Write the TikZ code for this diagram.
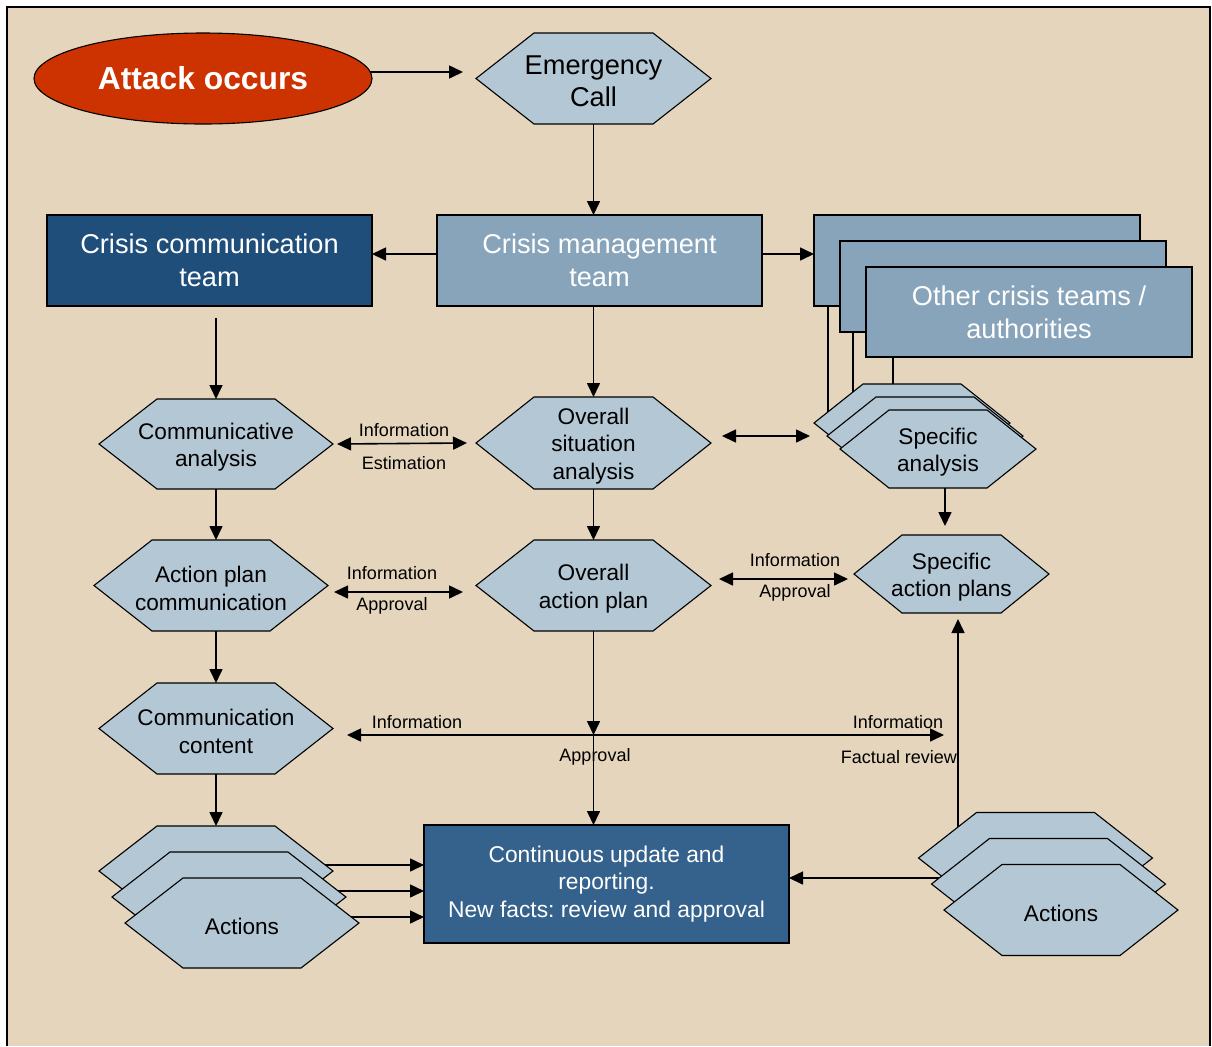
\documentclass[tikz,border=0pt]{standalone}
\usepackage{fontspec}
\setmainfont{Liberation Sans}
\frenchspacing
\usetikzlibrary{arrows.meta,shapes.geometric}
\pgfdeclarelayer{background}
\pgfdeclarelayer{connectors}
\pgfsetlayers{background,connectors,main}
\definecolor{bgc}{HTML}{E4D5BC}
\definecolor{hexc}{HTML}{B4C7D4}
\definecolor{teamc}{HTML}{87A4BA}
\definecolor{commc}{HTML}{1F4E7A}
\definecolor{contc}{HTML}{35628C}
\definecolor{attc}{HTML}{CC3300}
% #1 extra style, #2 name, #3 centre (px), #4 width, #5 height, #6 inset, #7 text
\newcommand\hexnode[7][]{%
  \coordinate (#2-c) at (#3);
  \filldraw[hexs] ([shift={(-#4/2,0)}]#2-c) -- ++(#6,-#5/2) -- ++(#4-2*#6,0)
     -- ++(#6,#5/2) -- ++(-#6,#5/2) -- ++(-#4+2*#6,0) -- cycle;
  \node[hext,minimum width=0.5pt*#4,minimum height=0.5pt*#5,#1] (#2) at (#2-c) {};
  \node[hext,#1] (#2-t) at ([yshift=-1.5pt]#2-c) {#7};
}
\begin{document}
\begin{tikzpicture}[x=0.5pt,y=-0.5pt,
  >={Triangle[length=7pt,width=6.5pt]},
  arr/.style={->,line width=0.8pt},
  darr/.style={<->,line width=0.8pt},
  ln/.style={line width=0.8pt},
  hexs/.style={fill=hexc,draw=black,line width=0.55pt},
  hext/.style={shape=rectangle,inner sep=0pt,outer sep=0pt,align=center,
    font=\fontsize{11.3}{13.8}\selectfont},
  box/.style={shape=rectangle,draw=black,line width=0.55pt,inner sep=0pt,outer sep=0pt,
    align=center,text=white,font=\fontsize{13.6}{16.5}\selectfont},
  lab/.style={inner sep=0pt,font=\fontsize{9}{11}\selectfont}]
\useasboundingbox (0,0) rectangle (1212,1046);
\begin{pgfonlayer}{background}
  \fill[white] (0,0) rectangle (1212,1046);
  \fill[bgc] (7,7) rectangle (1210,1046);
  \draw[line width=1pt] (7,1046) -- (7,7) -- (1210,7) -- (1210,1046);
\end{pgfonlayer}

% top
\node[ellipse,fill=attc,draw=black,line width=0.55pt,minimum width=169pt,minimum height=45.5pt,
  inner sep=0pt,outer sep=0pt,text=white,font=\bfseries\fontsize{15.9}{19}\selectfont]
  (att) at (203,78.5) {Attack occurs};
\hexnode[font=\fontsize{13.6}{16}\selectfont]{emg}{593.5,78.5}{235}{91}{58}{Emergency\\Call}

% teams
\node[box,fill=commc,minimum width=162.5pt,minimum height=45.5pt] (cct) at (209.5,260.5) {Crisis communication\\team};
\node[box,fill=teamc,minimum width=162.5pt,minimum height=45.5pt] (cm) at (599.5,260.5) {Crisis management\\team};
\node[box,fill=teamc,minimum width=163pt,minimum height=45.5pt] (ot1) at (977,260.5) {};
\node[box,fill=teamc,minimum width=163pt,minimum height=45.5pt] (ot2) at (1003,286.5) {};
\node[box,fill=teamc,minimum width=163pt,minimum height=45pt] (ot3) at (1029,312) {Other crisis teams /\\authorities};

% analysis row
\hexnode{cca}{216,444}{234}{90}{58}{Communicative\\analysis}
\hexnode{osa}{593.5,443}{235}{92}{58}{Overall\\situation\\analysis}
\hexnode{sa1}{912,423}{196}{78}{49}{}
\hexnode{sa2}{925,436}{196}{78}{49}{}
\hexnode{sa3}{938,449}{196}{78}{49}{Specific\\analysis}

% plan row
\hexnode{apc}{211,585.5}{234}{91}{58}{Action plan\\communication}
\hexnode{oap}{593.5,585.5}{235}{91}{58}{Overall\\action plan}
\hexnode{sap}{951.5,574}{195}{78}{48}{Specific\\action plans}

% content
\hexnode{cc}{216,728.5}{234}{91}{58}{Communication\\content}

% actions
\hexnode{la1}{216,871}{234}{90}{58}{}
\hexnode{la2}{229,897}{234}{90}{58}{}
\hexnode{la3}{242,923}{234}{90}{58}{Actions}
\hexnode{ra1}{1035.5,858}{234}{91}{58}{}
\hexnode{ra2}{1048.5,884}{234}{91}{58}{}
\hexnode{ra3}{1061,910}{234}{91}{58}{Actions}

\node[box,fill=contc,minimum width=182.5pt,minimum height=59pt,font=\fontsize{11.4}{13.75}\selectfont]
  (cont) at (606.5,884) {Continuous update and\\reporting.\\New facts: review and approval};

% labels
\node[lab] (l1) at (404,430) {Information};
\node[lab] (l2) at (404,463) {Estimation};
\node[lab] (l3) at (392,573) {Information};
\node[lab] (l4) at (392,606) {Approval};
\node[lab] (l5) at (795,560) {Information};
\node[lab] (l6) at (795,593) {Approval};
\node[lab] (l7) at (417,722) {Information};
\node[lab] (l8) at (595,757) {Approval};
\node[lab] (l9) at (898,722) {Information};
\node[lab] (l10) at (899,757) {Factual review};

\begin{pgfonlayer}{connectors}
  \draw[arr] ([yshift=3.25pt]att.center) -- ([shift={(-13,-6.5)}]emg.west);
  \draw[arr] (emg.south) -- (emg.south |- cm.north);
  \draw[arr] ([shift={(0,-6.5)}]cm.west) -- ([shift={(0,-6.5)}]cct.east);
  \draw[arr] ([shift={(0,-6.5)}]cm.east) -- ([shift={(0,-6.5)}]ot1.west);
  \draw[arr] (osa.north |- cm.south) -- (osa.north);
  \coordinate (c1) at (cct.south -| cca.north);
  \draw[arr] ([yshift=-6pt]c1) -- (cca.north);
  \draw[arr] (cca.south) -- (cca.south |- apc.north);
  \draw[arr] (cc.north |- apc.south) -- (cc.north);
  \draw[arr] (cc.south) -- (la1.north);
  \draw[arr] (osa.south) -- (oap.north);
  \coordinate (hl) at (347,735);
  \coordinate (hr) at (944,735);
  \coordinate (jn) at (oap.south |- hl);
  \draw[arr] (oap.south) -- (jn);
  \draw[arr] (jn) -- (jn |- cont.north);
  \draw[darr] (hl) -- (hr);
  \draw[darr] ([shift={(4,0)}]cca.east) -- ([shift={(-9,0)}]osa.west);
  \draw[darr] ([shift={(6,6.5)}]apc.east) -- ([shift={(-13,6.5)}]oap.west);
  \draw[darr] ([shift={(8,-6.5)}]oap.east) -- ([shift={(-6,5)}]sap.west);
  \draw[darr] ([shift={(11,-7)}]osa.east) -- ([shift={(-17,0)}]sa2.west);
  \coordinate (c2) at ([xshift=3.5pt]sa3.south);
  \draw[arr,shorten >=4.5pt] (c2) -- (c2 |- sap.north);
  \coordinate (c3) at ([xshift=-38.75pt]ra1.center);
  \draw[arr,shorten >=3pt] (c3) -- (c3 |- sap.south);
  \coordinate (c4) at ([yshift=3pt]ra2.center);
  \draw[arr] (c4) -- (c4 -| cont.east);
  \coordinate (p1) at ([yshift=3pt]la1.center);
  \coordinate (p2) at ([yshift=3pt]la2.center);
  \coordinate (p3) at ([yshift=3pt]la3.center);
  \draw[arr] (p1) -- (p1 -| cont.west);
  \draw[arr] (p2) -- (p2 -| cont.west);
  \draw[arr] (p3) -- (p3 -| cont.west);
  \coordinate (v1) at ([xshift=7pt]ot1.south west);
  \coordinate (v2) at ([xshift=6.5pt]ot2.south west);
  \coordinate (v3) at ([xshift=13.5pt]ot3.south west);
  \draw[ln] (v1) -- (v1 |- sa1.center);
  \draw[ln] (v2) -- (v2 |- sa1.center);
  \draw[ln] (v3) -- (v3 |- sa1.center);
\end{pgfonlayer}
\end{tikzpicture}
\end{document}
